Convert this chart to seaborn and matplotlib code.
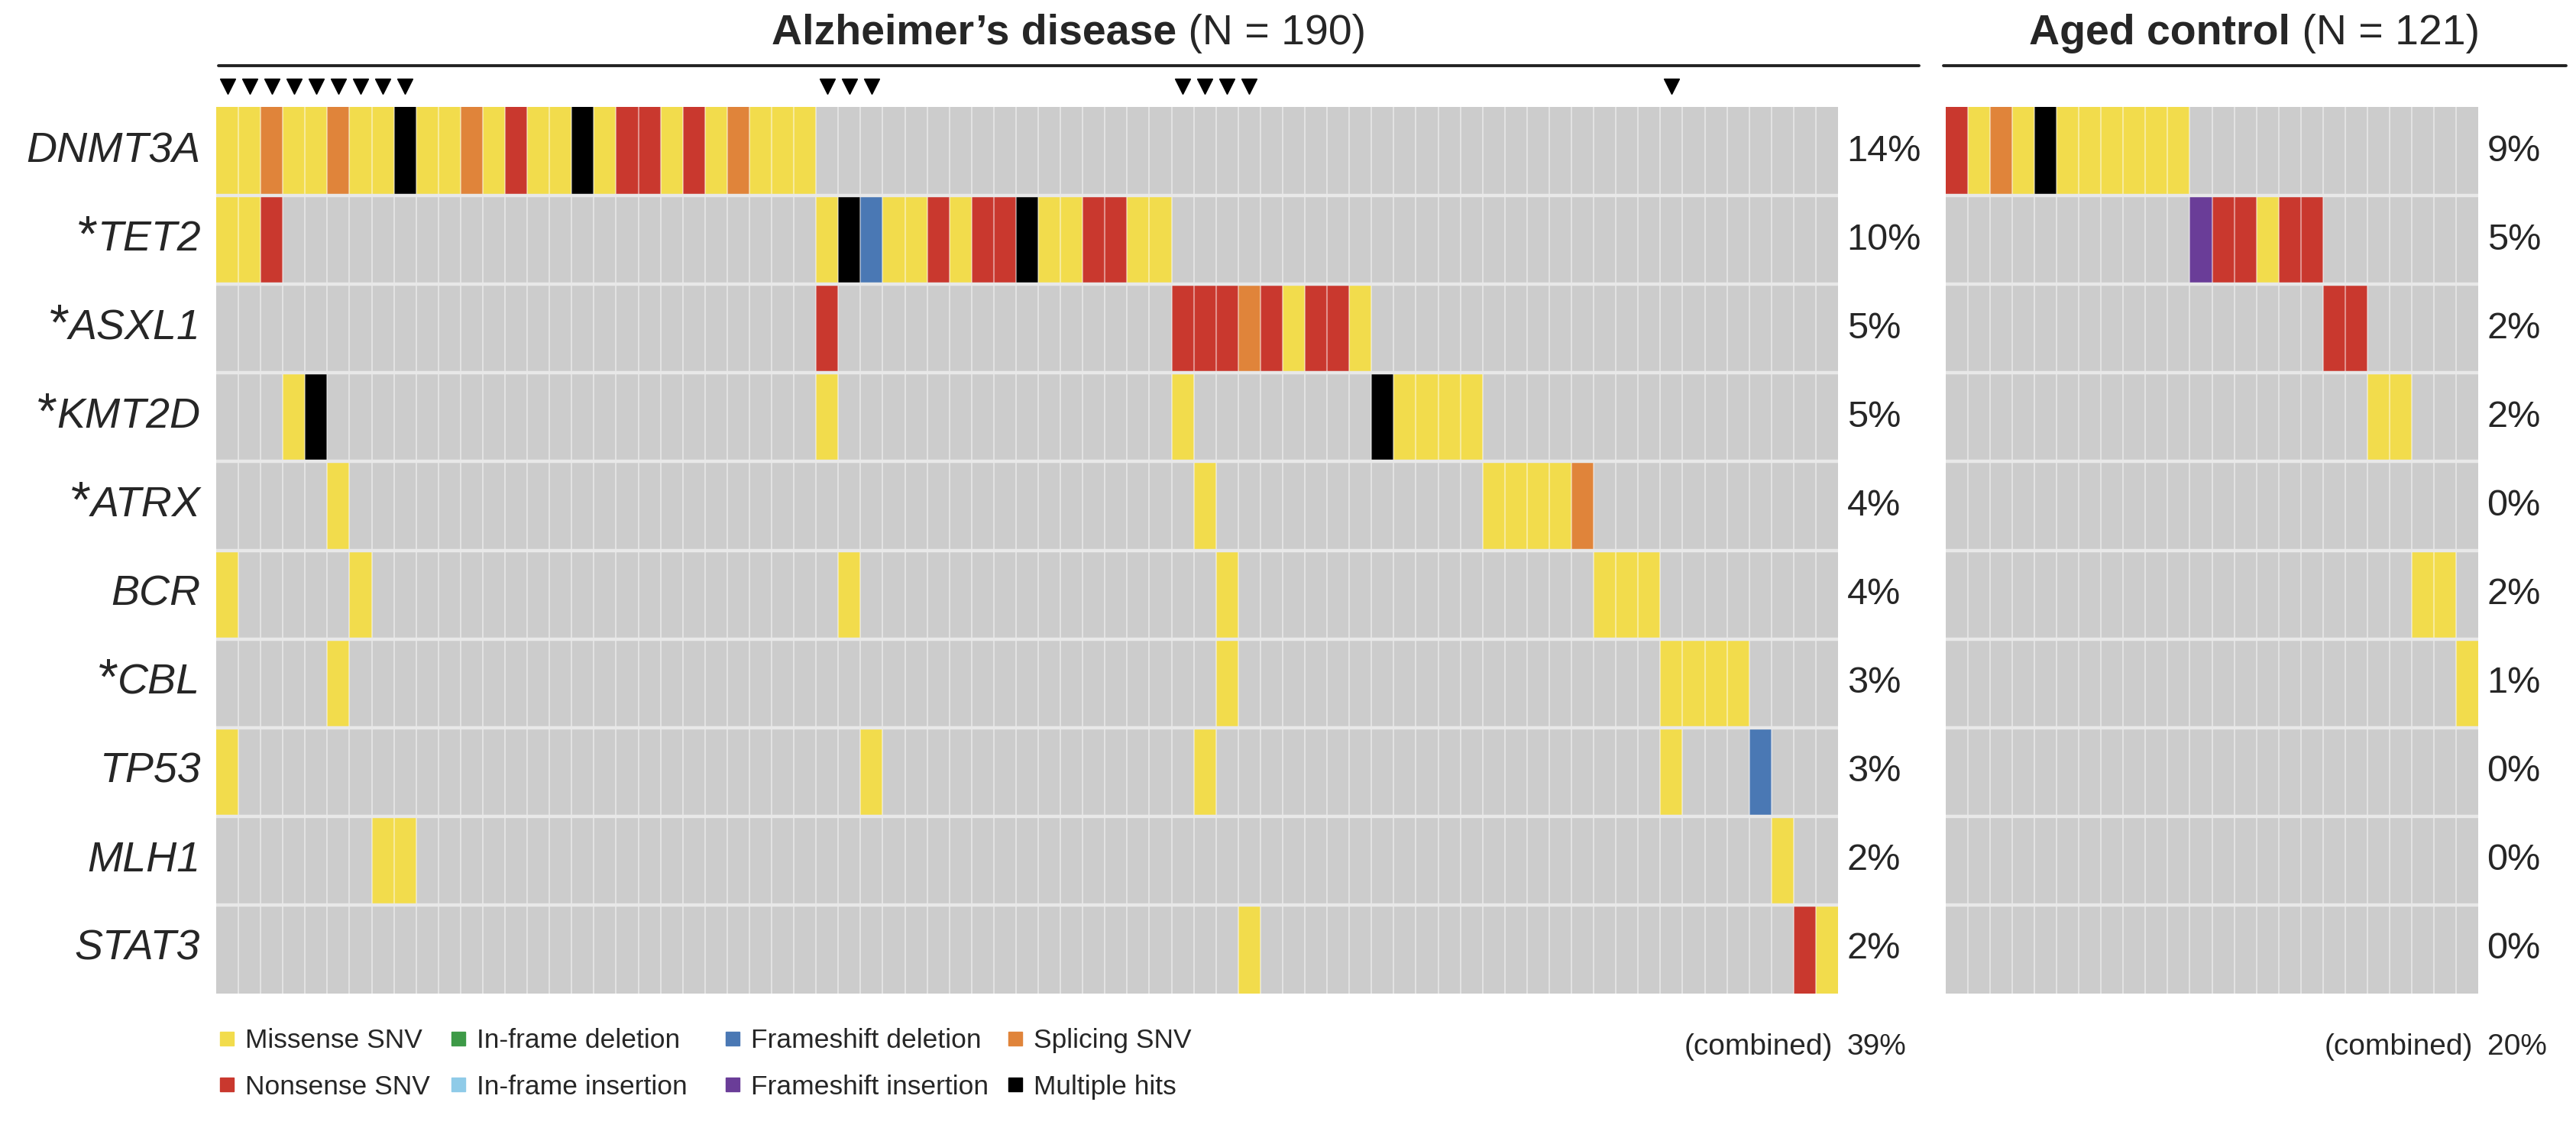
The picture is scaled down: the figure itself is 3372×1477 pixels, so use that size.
import numpy as np
import pandas as pd
import matplotlib
matplotlib.use("Agg")
import matplotlib.pyplot as plt
import seaborn as sns
from matplotlib.colors import ListedColormap
from matplotlib.lines import Line2D

# ---------------- data ----------------
genes = ["DNMT3A", "TET2", "ASXL1", "KMT2D", "ATRX", "BCR", "CBL", "TP53", "MLH1", "STAT3"]
starred = [False, True, True, True, True, False, True, False, False, False]

ad_title = ("Alzheimer\u2019s disease", " (N = 190)")
ctl_title = ("Aged control", " (N = 121)")
ad_n_cols = 73
ctl_n_cols = 24

# "<column><code>" per mutated patient. Codes: M missense SNV, N nonsense SNV,
# E in-frame deletion, F in-frame insertion, D frameshift deletion,
# I frameshift insertion, S splicing SNV, X multiple hits
ad_DNMT3A = "0M 1M 2S 3M 4M 5S 6M 7M 8X 9M 10M 11S 12M 13N 14M 15M 16X 17M 18N 19N 20M 21N 22M 23S 24M 25M 26M"
ad_TET2 = "0M 1M 2N 27M 28X 29D 30M 31M 32N 33M 34N 35N 36X 37M 38M 39N 40N 41M 42M"
ad_ASXL1 = "27N 43N 44N 45N 46S 47N 48M 49N 50N 51M"
ad_KMT2D = "3M 4X 27M 43M 52X 53M 54M 55M 56M"
ad_ATRX = "5M 44M 57M 58M 59M 60M 61S"
ad_BCR = "0M 6M 28M 45M 62M 63M 64M"
ad_CBL = "5M 45M 65M 66M 67M 68M"
ad_TP53 = "0M 29M 44M 65M 69D"
ad_MLH1 = "7M 8M 70M"
ad_STAT3 = "46M 71N 72M"

ctl_DNMT3A = "0N 1M 2S 3M 4X 5M 6M 7M 8M 9M 10M"
ctl_TET2 = "11I 12N 13N 14M 15N 16N"
ctl_ASXL1 = "17N 18N"
ctl_KMT2D = "19M 20M"
ctl_ATRX = ""
ctl_BCR = "21M 22M"
ctl_CBL = "23M"
ctl_TP53 = ""
ctl_MLH1 = ""
ctl_STAT3 = ""

ad_pct = ["14%", "10%", "5%", "5%", "4%", "4%", "3%", "3%", "2%", "2%"]
ctl_pct = ["9%", "5%", "2%", "2%", "0%", "2%", "1%", "0%", "0%", "0%"]
ad_combined = "39%"
ctl_combined = "20%"

legend_labels = ["Missense SNV", "Nonsense SNV", "In-frame deletion", "In-frame insertion",
                 "Frameshift deletion", "Frameshift insertion", "Splicing SNV", "Multiple hits"]
legend_codes = ["M", "N", "E", "F", "D", "I", "S", "X"]

# ---------------- styling ----------------
code_order = [".", "M", "N", "E", "F", "D", "I", "S", "X"]
code_colors = {".": "#cccccc", "M": "#f2dc4c", "N": "#c9382e", "E": "#3d9a47",
               "F": "#8fcbe8", "D": "#4a78b4", "I": "#6a3d98", "S": "#e0843a", "X": "#000000"}
cmap = ListedColormap([code_colors[c] for c in code_order])

sns.set_style("white")
plt.rcParams["font.family"] = ["Liberation Sans", "DejaVu Sans"]


def build(rows, n):
    mat = np.zeros((len(genes), n), dtype=int)
    for gi, s in enumerate(rows):
        for tok in s.split():
            mat[gi, int(tok[:-1])] = code_order.index(tok[-1])
    return pd.DataFrame(mat, index=genes)


ad_df = build([ad_DNMT3A, ad_TET2, ad_ASXL1, ad_KMT2D, ad_ATRX, ad_BCR, ad_CBL,
               ad_TP53, ad_MLH1, ad_STAT3], ad_n_cols)
ctl_df = build([ctl_DNMT3A, ctl_TET2, ctl_ASXL1, ctl_KMT2D, ctl_ATRX, ctl_BCR, ctl_CBL,
                ctl_TP53, ctl_MLH1, ctl_STAT3], ctl_n_cols)

W, H = 3372, 1477
fig = plt.figure(figsize=(W / 100, H / 100), dpi=100)


def fx(px):
    return px / W


def fy(py):
    return 1 - py / H


top, bot = 140, 1301
ax1 = fig.add_axes([fx(283), fy(bot), fx(2406) - fx(283), fy(top) - fy(bot)])
ax2 = fig.add_axes([fx(2547), fy(bot), fx(3244) - fx(2547), fy(top) - fy(bot)])

FS_GENE = 40
FS_PCT = 35
FS_TITLE = 40
FS_SMALL = 28
FS_LEG = 25.5

for ax, df, pct, comb in [(ax1, ad_df, ad_pct, ad_combined), (ax2, ctl_df, ctl_pct, ctl_combined)]:
    sns.heatmap(df, ax=ax, cmap=cmap, vmin=-0.5, vmax=len(code_order) - 0.5, cbar=False,
                linewidths=0, xticklabels=False, yticklabels=(ax is ax1))
    n = df.shape[1]
    for x in range(1, n):
        ax.axvline(x, color="white", alpha=0.45, lw=1.5)
    for y in range(1, len(genes)):
        ax.axhline(y, color="#e8e8e8", lw=3.2)
    for i, p in enumerate(pct):
        ax.text(n + 0.4, i + 0.5, p, ha="left", va="center", fontsize=FS_PCT, clip_on=False)
    ax.text(n - 0.25, 10.6, "(combined)", ha="right", va="center", fontsize=FS_SMALL, clip_on=False)
    ax.text(n + 0.4, 10.6, comb, ha="left", va="center", fontsize=FS_SMALL, clip_on=False)
    # samples with more than one mutated gene
    multi = np.where((df.values > 0).sum(axis=0) > 1)[0]
    ax.plot(multi + 0.5, np.full(len(multi), -0.23), "v", ms=15, color="black", clip_on=False)
    for s in ax.spines.values():
        s.set_visible(False)
    ax.tick_params(length=0)

ax1.set_yticklabels(genes, rotation=0, fontstyle="italic", fontsize=FS_GENE)
ax1.tick_params(axis="y", pad=15)
ax2.set_yticks([])
for ax in (ax1, ax2):
    ax.set_xlabel("")
    ax.set_ylabel("")

# header lines
fig.add_artist(Line2D([fx(286), fx(2512)], [fy(86), fy(86)], color="#222222", lw=2.8))
fig.add_artist(Line2D([fx(2544), fx(3359)], [fy(86), fy(86)], color="#222222", lw=2.8))

# titles (bold + regular parts)
titles = []
for xc, (b, r) in [(fx(1399), ad_title), (fx(2951), ctl_title)]:
    t1 = fig.text(0, fy(58), b, fontweight="bold", fontsize=FS_TITLE, ha="left", va="baseline")
    t2 = fig.text(0, fy(58), r, fontsize=FS_TITLE, ha="left", va="baseline")
    titles.append((xc, t1, t2))

# legend: four two-entry columns placed at the reference column positions
legend_col_x = [286, 589, 948, 1318]
for ci, x0 in enumerate(legend_col_x):
    idx = [2 * ci, 2 * ci + 1]
    hs = [Line2D([], [], marker="s", ls="", color=code_colors[legend_codes[k]], ms=13) for k in idx]
    fig.legend(hs, [legend_labels[k] for k in idx], ncol=1, loc="upper left",
               bbox_to_anchor=(fx(x0), fy(1346)), frameon=False, fontsize=FS_LEG,
               handlelength=0.6, handletextpad=0.4, labelspacing=0.78,
               borderpad=0, borderaxespad=0)

fig.canvas.draw()
rend = fig.canvas.get_renderer()
for xc, t1, t2 in titles:
    w1 = t1.get_window_extent(rend).width / fig.bbox.width
    w2 = t2.get_window_extent(rend).width / fig.bbox.width
    x0 = xc - (w1 + w2) / 2
    t1.set_x(x0)
    t2.set_x(x0 + w1)

for lab, star in zip(ax1.get_yticklabels(), starred):
    if star:
        bb = lab.get_window_extent(rend)
        yd = lab.get_transform().transform(lab.get_position())[1]
        fig.text((bb.x0 + 1) / fig.bbox.width, (yd + 10) / fig.bbox.height, "*", ha="right",
                 va="center_baseline", fontsize=48)

fig.savefig("out.png", dpi=100)
